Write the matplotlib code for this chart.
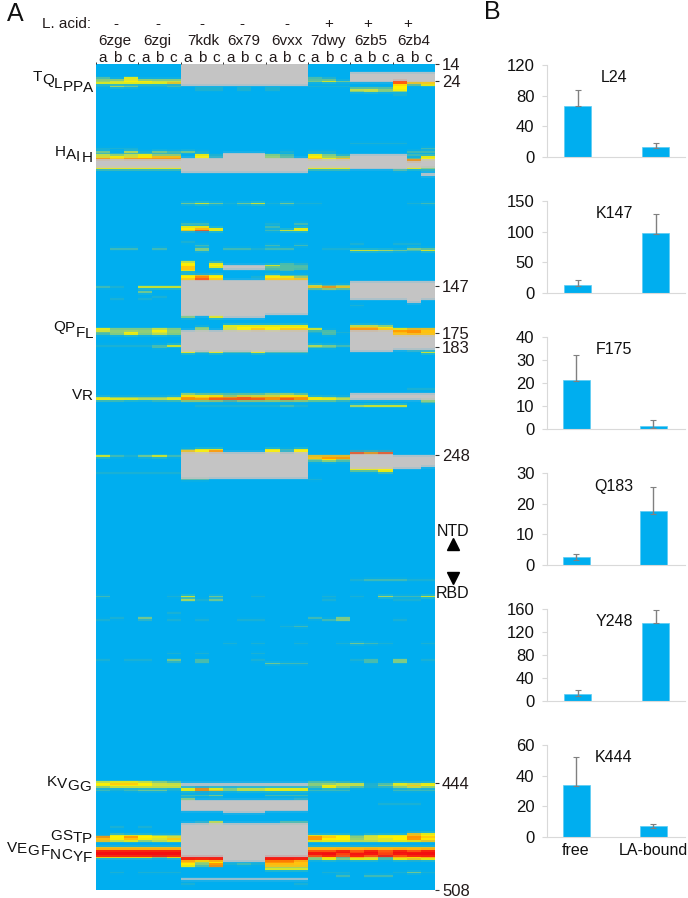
import numpy as np
import matplotlib
matplotlib.use("Agg")
import matplotlib.pyplot as plt
from matplotlib.colors import to_rgb

plt.rcParams['font.family'] = ['Liberation Sans', 'DejaVu Sans']

W, H = 688, 898
TXT = '#221a1a'

# ---------- Panel A data ----------
structures = ['6zge', '6zgi', '7kdk', '6x79', '6vxx', '7dwy', '6zb5', '6zb4']
linoleic = ['-', '-', '-', '-', '-', '+', '+', '+']
replicates = ['a', 'b', 'c']
res_ticks = [14, 24, 147, 175, 183, 248, 444, 508]

# Residue -> level (0-9) in each of the 24 columns (8 structures x a, b, c)
rows = {
    22: "205 000 000 000 000 210 000 000",
    23: "334 333 000 000 000 220 000 000",
    24: "345 544 000 000 000 353 000 800",
    25: "555 556 000 000 000 000 000 866",
    26: "000 000 000 000 000 000 000 525",
    27: "143 112 000 000 000 111 000 500",
    28: "000 000 011 010 100 000 222 500",
    29: "000 000 011 010 100 000 443 500",
    30: "000 000 000 000 000 000 343 300",
    32: "000 000 000 000 000 000 000 100",
    61: "000 000 000 000 000 000 111 100",
    64: "111 000 000 000 000 000 000 002",
    66: "304 132 310 000 010 110 000 022",
    67: "111 111 000 000 000 000 000 000",
    68: "434 533 051 000 320 531 000 221",
    69: "454 566 051 000 320 533 000 205",
    70: "767 777 000 000 000 656 000 025",
    71: "000 000 000 000 000 000 000 070",
    76: "555 555 000 000 000 555 000 053",
    77: "111 111 000 000 000 111 000 201",
    97: "000 000 353 135 131 100 000 012",
    109: "000 000 220 000 102 000 000 000",
    111: "000 000 550 000 200 000 000 000",
    112: "000 000 565 000 005 000 000 000",
    113: "000 000 685 000 255 000 000 000",
    120: "000 000 100 000 000 000 000 000",
    121: "000 000 000 000 000 000 100 110",
    122: "000 000 020 000 202 000 000 000",
    124: "022 020 030 221 220 011 000 032",
    125: "000 000 030 000 000 000 554 325",
    132: "000 000 401 000 000 000 000 000",
    133: "000 000 505 000 021 000 000 000",
    134: "000 000 505 000 522 000 000 000",
    135: "000 000 605 000 222 000 000 000",
    136: "000 000 600 000 222 000 000 000",
    137: "000 000 500 000 120 000 000 000",
    140: "000 000 565 000 422 000 000 000",
    141: "000 000 575 001 553 000 000 000",
    142: "000 000 686 000 666 000 000 000",
    146: "000 000 000 000 000 423 000 000",
    147: "210 555 000 000 000 676 000 000",
    148: "000 000 000 000 000 232 000 000",
    150: "000 300 000 000 000 000 000 000",
    153: "000 010 000 000 000 000 000 000",
    154: "010 100 000 000 000 000 000 000",
    158: "000 000 000 000 000 000 100 000",
    165: "000 000 305 000 000 000 000 000",
    170: "000 000 000 555 555 000 443 000",
    171: "000 000 030 455 555 000 665 000",
    172: "533 343 030 456 566 500 776 566",
    173: "433 353 000 000 000 120 000 776",
    174: "235 343 000 000 000 121 000 676",
    175: "235 343 000 000 000 020 000 666",
    182: "111 125 000 000 000 432 000 000",
    183: "000 020 000 000 000 220 000 000",
    185: "000 000 000 000 000 000 000 010",
    186: "000 000 525 225 222 000 000 005",
    208: "000 000 000 000 000 000 000 011",
    211: "000 000 322 222 332 000 000 000",
    212: "000 000 555 344 455 000 000 000",
    213: "433 334 767 787 777 543 000 000",
    214: "555 445 778 888 787 554 000 000",
    215: "110 011 333 233 333 221 000 003",
    216: "000 000 000 000 000 000 000 002",
    218: "000 000 011 111 121 000 455 500",
    244: "000 000 255 000 525 000 000 000",
    245: "000 000 657 000 515 000 111 000",
    246: "000 000 000 000 000 000 878 000",
    248: "521 352 000 000 000 666 000 000",
    249: "000 000 000 000 000 677 000 000",
    250: "000 000 000 000 000 353 000 000",
    251: "000 000 000 000 000 232 000 000",
    256: "000 000 000 000 000 000 555 000",
    257: "000 000 000 000 000 000 225 000",
    258: "111 111 000 000 000 000 001 000",
    262: "000 000 220 000 000 100 000 000",
    322: "000 000 000 000 000 000 122 211",
    332: "200 001 503 001 000 010 104 225",
    334: "000 000 413 000 000 010 000 110",
    342: "000 001 000 000 000 000 000 000",
    345: "010 300 000 000 000 203 000 000",
    346: "100 101 010 011 000 023 000 100",
    350: "000 000 000 000 012 000 000 000",
    360: "000 000 000 101 001 001 321 001",
    366: "000 001 010 001 000 000 000 000",
    370: "101 103 020 001 000 000 120 301",
    371: "000 001 020 000 000 000 020 300",
    372: "000 000 000 000 322 000 000 000",
    443: "455 432 000 000 000 221 000 000",
    444: "566 544 000 000 000 334 412 545",
    445: "555 544 000 000 000 354 413 465",
    446: "344 444 000 000 000 253 211 343",
    447: "000 000 575 344 555 000 000 000",
    448: "212 331 576 344 555 222 000 222",
    451: "000 000 223 000 222 000 000 000",
    453: "000 000 300 000 001 000 000 000",
    456: "000 000 000 000 000 000 001 110",
    467: "000 000 014 000 022 000 000 000",
    470: "010 100 000 000 000 000 000 000",
    474: "010 000 000 000 000 000 000 065",
    475: "155 533 000 000 000 555 245 565",
    476: "757 554 000 000 000 765 345 576",
    477: "656 546 000 000 000 755 344 575",
    478: "645 345 000 000 000 555 445 556",
    482: "666 666 000 000 000 666 666 666",
    483: "666 666 000 000 000 666 666 666",
    484: "999 999 000 000 000 889 898 989",
    485: "999 999 000 000 000 999 898 999",
    486: "999 999 000 000 000 998 998 999",
    487: "999 999 000 000 000 898 989 899",
    488: "555 535 999 000 999 352 642 656",
    489: "000 000 999 000 999 353 552 565",
    490: "000 000 656 000 776 000 000 000",
    491: "000 000 635 000 776 000 000 000",
    492: "000 000 537 121 666 000 000 000",
    493: "000 000 527 000 666 000 000 000",
    494: "000 000 000 000 333 000 000 000",
    495: "000 000 000 000 555 000 000 000",
    497: "010 111 000 000 000 011 000 131",
    499: "000 000 000 000 000 002 022 000",
    504: "000 000 100 000 001 000 000 000",
}

# (first column, last column + 1, first residue, last residue + 1): no coverage
gaps = [
    (6, 15, 14, 27), (18, 21, 19, 25), (21, 22, 19, 24), (22, 24, 19, 25),
    (0, 6, 71, 76), (6, 9, 70, 79), (9, 12, 67, 79), (12, 15, 70, 79),
    (15, 18, 71, 76), (18, 22, 68, 77), (22, 23, 72, 76), (23, 24, 71, 76),
    (23, 24, 79, 81),
    (9, 12, 134, 137), (6, 9, 143, 165), (9, 12, 143, 166), (12, 15, 143, 164),
    (18, 24, 144, 155), (22, 23, 155, 157),
    (6, 15, 173, 186), (18, 21, 173, 186), (21, 24, 176, 185),
    (18, 24, 211, 215),
    (6, 15, 246, 262), (18, 21, 247, 256), (21, 23, 248, 256), (23, 24, 248, 255),
    (6, 15, 444, 446), (6, 15, 454, 461), (9, 12, 461, 462),
    (6, 15, 468, 488), (9, 12, 488, 491), (6, 15, 501, 502),
]

level_colors = ['#00AEEF', '#22B2CF', '#52BEA6', '#8FCF78', '#D4E33A',
                '#FFF200', '#FFC20E', '#FF8C00', '#FF4A10', '#F50F0F']
gap_color = '#C4C4C4'

# Residue letters beside the heat map: (letter, x px, y px)
side_letters = [
    ('T', 37, 77), ('Q', 48, 80), ('L', 58.4, 84), ('P', 67.8, 87), ('P', 78, 87), ('A', 88.2, 88),
    ('H', 60, 152), ('A', 71, 155), ('I', 78.2, 157), ('H', 86.8, 158),
    ('Q', 59, 327), ('P', 70, 328), ('F', 80, 333), ('L', 89, 334),
    ('V', 76.5, 395), ('R', 87.3, 396),
    ('K', 51.6, 782), ('V', 62, 784), ('G', 73.4, 786), ('G', 85.6, 787),
    ('G', 56, 836), ('S', 67.2, 836), ('T', 77.2, 838), ('P', 87, 839),
    ('V', 11.8, 848), ('E', 22, 849), ('G', 33.4, 851), ('F', 45, 851),
    ('N', 55.6, 855), ('C', 66.8, 855), ('Y', 77.6, 857), ('F', 87.6, 858),
]

# ---------- Panel B data ----------
bar_groups = ['free', 'LA-bound']
bar_names = ['L24', 'K147', 'F175', 'Q183', 'Y248', 'K444']
bar_free = [67, 12, 21.5, 2.7, 12, 34]
bar_bound = [13, 97, 1.5, 17.5, 136, 7]
err_up_free = [20, 8, 10.8, 1, 8, 18]
err_up_bound = [4.3, 32, 2.4, 8, 23, 1.7]
err_low_free = [1, 1, 0.8, 1, 4, 1]
err_low_bound = [2, 1, 1, 1, 1, 1]
y_max = [120, 150, 40, 30, 160, 60]
y_step = [40, 50, 10, 10, 40, 20]
# Pixel rows of the top and bottom tick of each bar panel
panel_top = [65, 201, 337, 473, 609, 745]
panel_bot = [156.7, 292.7, 429, 565, 701, 837]
label_y = [78, 213, 349, 486, 622, 757]


def px_axes(fig, x0, y0, x1, y1):
    return fig.add_axes([x0 / W, 1 - y1 / H, (x1 - x0) / W, (y1 - y0) / H])


fig = plt.figure(figsize=(W / 100, H / 100), dpi=100)

# ---------- Heat map ----------
first, last = 14, 508
n_cols = len(structures) * len(replicates)
matrix = np.zeros((last - first, n_cols), dtype=int)
for res, text in rows.items():
    matrix[res - first] = [int(c) for c in text.replace(' ', '')]
palette = np.array([to_rgb(c) for c in level_colors] + [to_rgb(gap_color)])
for c0, c1, r0, r1 in gaps:
    matrix[r0 - first:r1 - first, c0:c1] = len(level_colors)
rgb = palette[matrix]
# The source image is slightly soft along the residue axis
kernel = np.array([0.12, 0.76, 0.12])
padded = np.concatenate([rgb[:1], rgb, rgb[-1:]], axis=0)
soft = kernel[0] * padded[:-2] + kernel[1] * padded[1:-1] + kernel[2] * padded[2:]

hx0, hx1, hy0, hy1 = 96, 435, 64, 890
ax = px_axes(fig, hx0, hy0, hx1, hy1)
ax.imshow(soft, aspect='auto', interpolation='nearest', extent=(0, n_cols, last, first))
for s in ax.spines.values():
    s.set_visible(False)
ax.yaxis.tick_right()
ax.set_yticks(res_ticks)
ax.set_yticklabels([str(t) for t in res_ticks], fontsize=12, color=TXT)
ax.tick_params(axis='y', length=3, width=0.8, pad=2, color='#333333')
ax.xaxis.tick_top()
ax.set_xticks(np.arange(n_cols) + 0.5)
ax.set_xticklabels(replicates * len(structures), fontsize=11, color=TXT)
ax.tick_params(axis='x', length=0, pad=-1)
ax.set_xticks(np.arange(0, n_cols, 3), minor=True)
ax.tick_params(axis='x', which='minor', length=1.5, width=0.7, color='#333333', top=True, bottom=False)
ax.set_xlim(0, n_cols)
ax.set_ylim(last, first)

# ---------- Annotation overlay in pixel coordinates ----------
ov = fig.add_axes([0, 0, 1, 1], zorder=5)
ov.set_xlim(0, W)
ov.set_ylim(H, 0)
ov.axis('off')
ov.patch.set_alpha(0)

ov.text(91, 24, 'L. acid:', ha='right', va='center', fontsize=11, color=TXT)
struct_x = [115, 157, 203, 244, 287, 328, 371, 414]
sign_x = [116, 158, 202, 242, 287, 329, 368, 408]
for name, sign, sx, gx in zip(structures, linoleic, struct_x, sign_x):
    ov.text(sx, 41, name, ha='center', va='center', fontsize=11, color=TXT)
    ov.text(gx, 24, sign, ha='center', va='center', fontsize=11, color=TXT)
for ch, x, y in side_letters:
    ov.text(x, y, ch, ha='center', va='center', fontsize=11, color='#111111')
ov.text(15, 14, 'A', ha='center', va='center', fontsize=18, color='#111111')
ov.text(492, 12, 'B', ha='center', va='center', fontsize=18, color='#111111')
ov.text(453, 531, 'NTD', ha='center', va='center', fontsize=11.5, color='#111111')
ov.text(453, 594, 'RBD', ha='center', va='center', fontsize=11.5, color='#111111')
ov.plot([453], [544], marker='^', ms=9, color='black', ls='none')
ov.plot([453], [578], marker='v', ms=9, color='black', ls='none')

# ---------- Bar panels ----------
for i, name in enumerate(bar_names):
    bx = px_axes(fig, 547, panel_top[i], 685, panel_bot[i])
    centers = (577.5, 655.5) if i < 2 or i == 4 else (576, 653)
    scale = centers[1] - centers[0]
    bx.bar([0, 1], [bar_free[i], bar_bound[i]], width=27 / scale, color='#00AEEF',
           edgecolor='#5CCBF3', linewidth=0.5)
    bx.errorbar([0, 1], [bar_free[i], bar_bound[i]],
                yerr=[[err_low_free[i], err_low_bound[i]], [err_up_free[i], err_up_bound[i]]],
                fmt='none', ecolor='#808080', elinewidth=1, capsize=2, capthick=0.8)
    bx.set_xlim((547 - centers[0]) / scale, (685 - centers[0]) / scale)
    bx.set_ylim(0, y_max[i])
    bx.set_yticks(np.arange(0, y_max[i] + 1, y_step[i]))
    bx.tick_params(axis='y', labelsize=12, length=3.6, width=0.8, color='#D9D9D9',
                   labelcolor='#111111', pad=5.5)
    for side in ('top', 'right'):
        bx.spines[side].set_visible(False)
    for side in ('left', 'bottom'):
        bx.spines[side].set_color('#D9D9D9')
        bx.spines[side].set_linewidth(0.8)
    bx.patch.set_alpha(0)
    if i == len(bar_names) - 1:
        bx.set_xticks([0, 1])
        bx.set_xticklabels(bar_groups, fontsize=11.5, color='#111111')
        bx.tick_params(axis='x', length=0, pad=4)
    else:
        bx.set_xticks([])
    ov.text(614, label_y[i], name, ha='center', va='center', fontsize=11.5, color='#111111')

fig.savefig('out.png', dpi=100)
